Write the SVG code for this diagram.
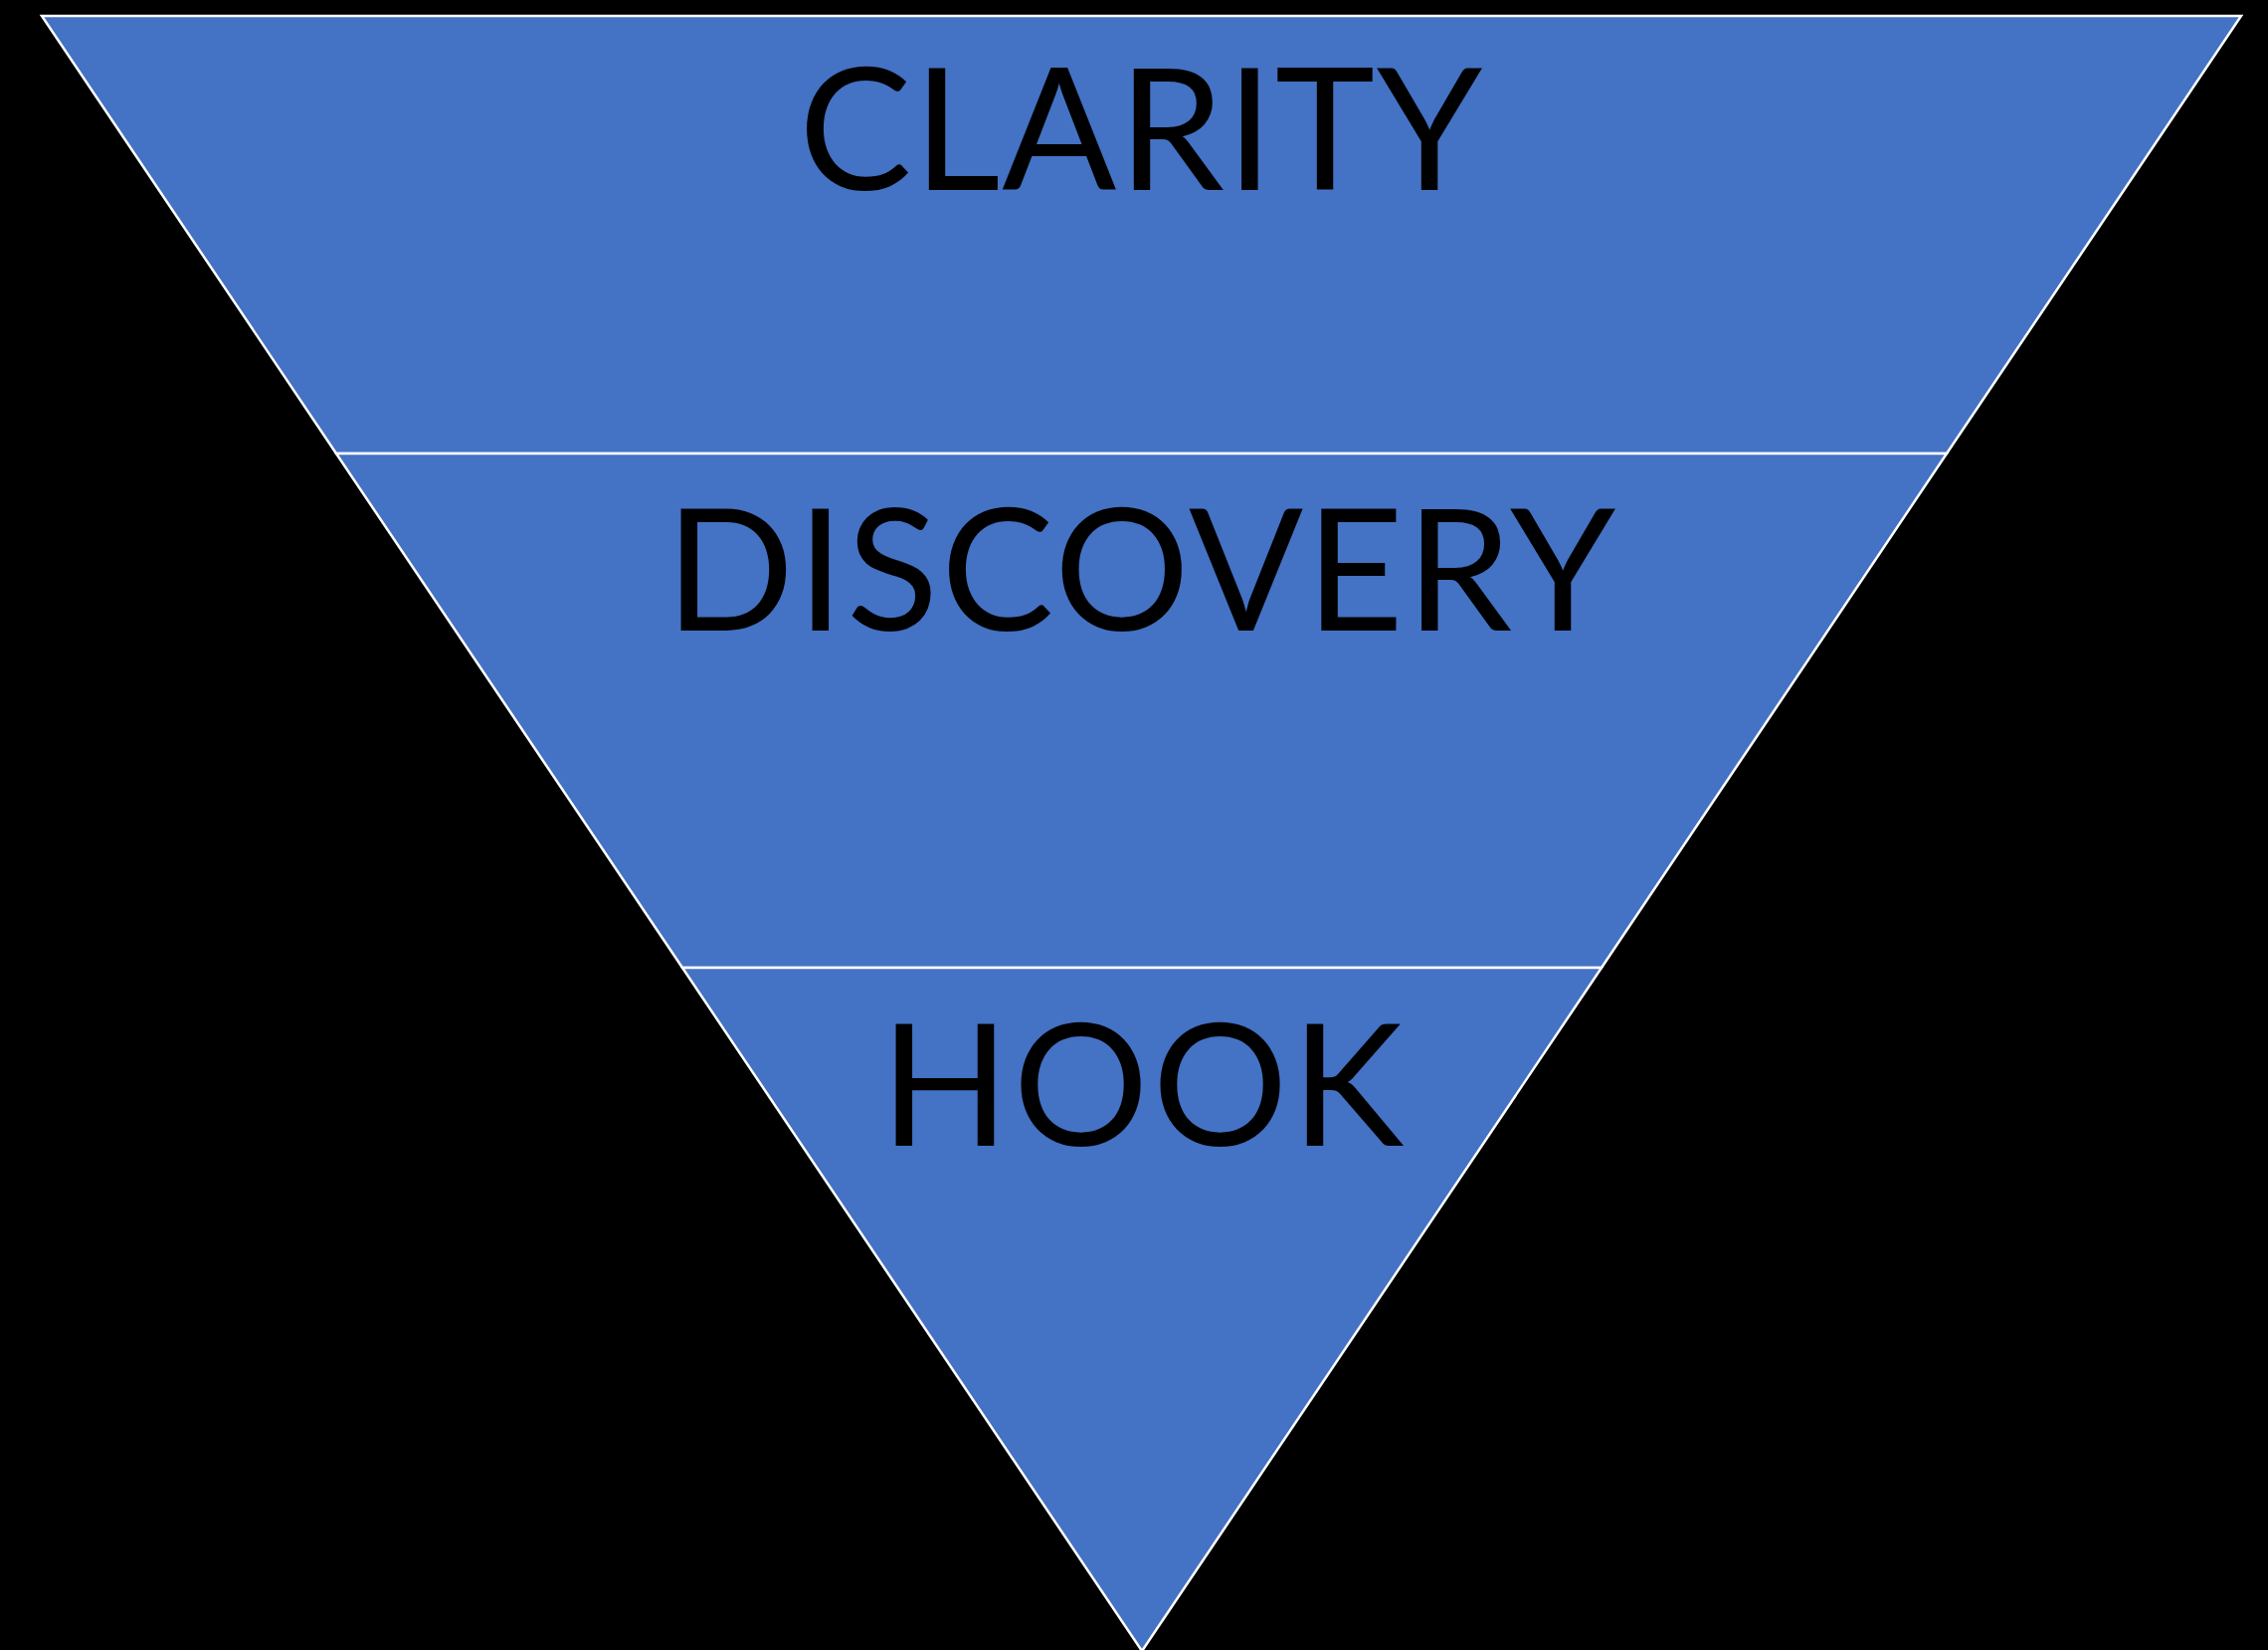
<svg xmlns="http://www.w3.org/2000/svg" width="2280" height="1659" viewBox="0 0 2280 1659">
<style>
.seg{fill:#4472C4;stroke:#FFFFFF;stroke-width:2.5;stroke-linejoin:miter}
.lbl{font-family:Lato,"Open Sans","Liberation Sans",sans-serif;font-size:170px;fill:#000000;font-weight:400}
</style>
<rect x="0" y="0" width="2280" height="1659" fill="#000000"/>
<g id="clarity">
<polygon class="seg" points="42,16 2253,16 1957,456 338,456"/>
<text class="lbl" x="803" y="191" textLength="687" lengthAdjust="spacing">CLARITY</text>
</g>
<g id="discovery">
<polygon class="seg" points="338,456 1957,456 1610,973 686,973"/>
<text class="lbl" x="669" y="634" textLength="955" lengthAdjust="spacing">DISCOVERY</text>
</g>
<g id="hook">
<polygon class="seg" points="686,973 1610,973 1148,1660"/>
<text class="lbl" x="885" y="1152" textLength="526" lengthAdjust="spacing">HOOK</text>
</g>
<g id="connectors"></g>
</svg>
